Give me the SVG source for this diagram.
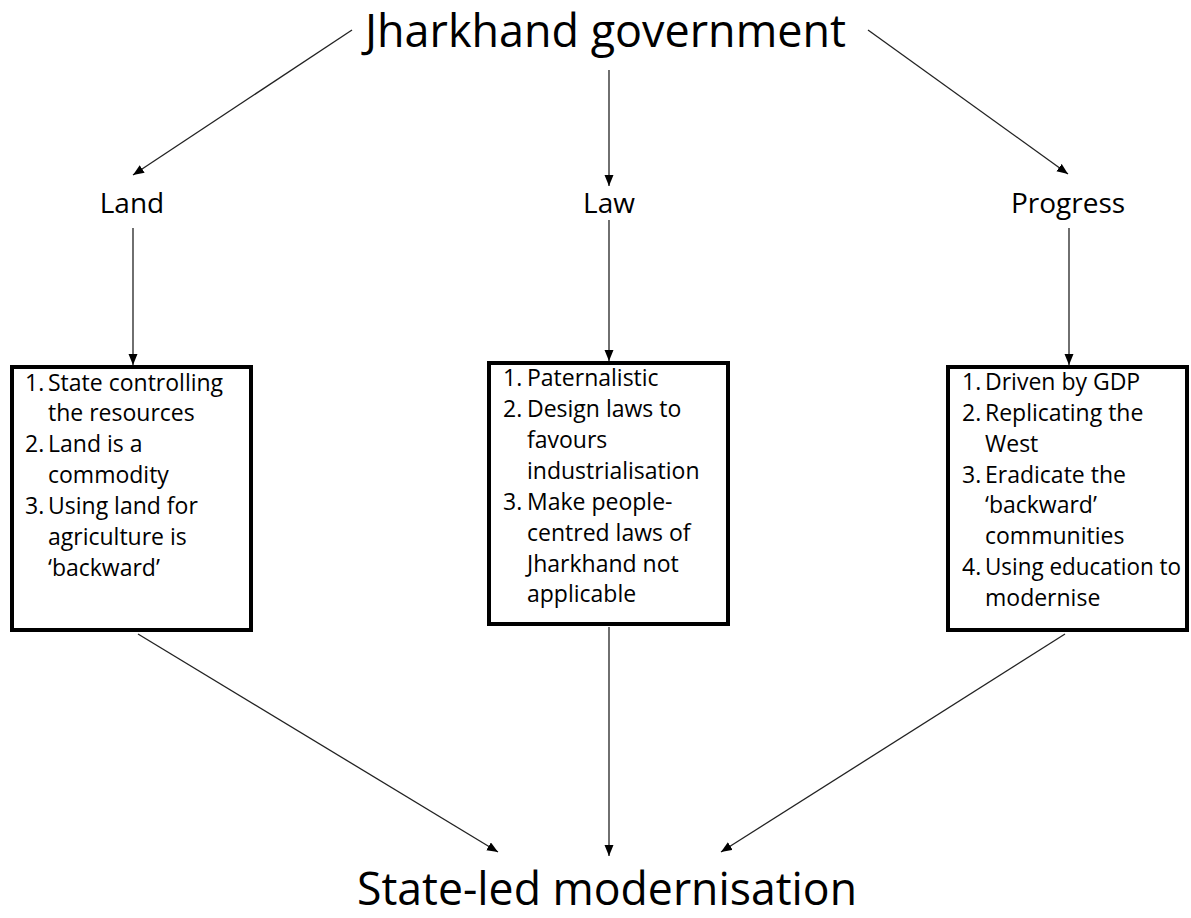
<svg xmlns="http://www.w3.org/2000/svg" width="1191" height="918" viewBox="0 0 1191 918">
  <style>
    .title { font-family: "Open Sans", "Liberation Sans", sans-serif; font-size: 45px; fill: #000; }
    .label { font-family: "Open Sans", "Liberation Sans", sans-serif; font-size: 28px; fill: #000; }
    .item { font-family: "Open Sans", "Liberation Sans", sans-serif; font-size: 23px; fill: #000; }
    .box { fill: #fff; stroke: #000; stroke-width: 4; }
    .link { stroke: #222; stroke-width: 1.3; fill: none; marker-end: url(#arrow); }
  </style>
  <defs>
    <marker id="arrow" markerUnits="userSpaceOnUse" markerWidth="12" markerHeight="10" refX="11" refY="4.5" orient="auto">
      <path d="M0,0 L11,4.5 L0,9 z" fill="#000"/>
    </marker>
  </defs>

  <rect width="1191" height="918" fill="#fff"/>

  <!-- connectors -->
  <g id="connectors">
    <line class="link" x1="352" y1="30" x2="133" y2="175"/>
    <line class="link" x1="609" y1="70" x2="609" y2="186"/>
    <line class="link" x1="868" y1="30" x2="1068" y2="174"/>
    <line class="link" x1="133" y1="228" x2="133" y2="365"/>
    <line class="link" x1="609" y1="220" x2="609" y2="361"/>
    <line class="link" x1="1069" y1="228" x2="1069" y2="365"/>
    <line class="link" x1="138" y1="634" x2="498" y2="852"/>
    <line class="link" x1="609" y1="627" x2="609" y2="856"/>
    <line class="link" x1="1065" y1="634" x2="721" y2="852"/>
  </g>

  <!-- top node -->
  <g id="jharkhand-government">
    <text class="title" x="365" y="47" textLength="481" lengthAdjust="spacingAndGlyphs">Jharkhand government</text>
  </g>

  <!-- category labels -->
  <g id="land">
    <text class="label" x="132" y="213" text-anchor="middle">Land</text>
  </g>
  <g id="law">
    <text class="label" x="609" y="213" text-anchor="middle">Law</text>
  </g>
  <g id="progress">
    <text class="label" x="1068" y="213" text-anchor="middle">Progress</text>
  </g>

  <!-- land box -->
  <g id="land-box">
    <rect class="box" x="12" y="367" width="239" height="263"/>
    <text class="item" x="25" y="391">1.</text>
    <text class="item" x="48" y="391">State controlling</text>
    <text class="item" x="48" y="421">the resources</text>
    <text class="item" x="25" y="452">2.</text>
    <text class="item" x="48" y="452">Land is a</text>
    <text class="item" x="48" y="483">commodity</text>
    <text class="item" x="25" y="514">3.</text>
    <text class="item" x="48" y="514">Using land for</text>
    <text class="item" x="48" y="545">agriculture is</text>
    <text class="item" x="48" y="576">‘backward’</text>
  </g>

  <!-- law box -->
  <g id="law-box">
    <rect class="box" x="489" y="363" width="239" height="261"/>
    <text class="item" x="503" y="386">1.</text>
    <text class="item" x="527" y="386">Paternalistic</text>
    <text class="item" x="503" y="417">2.</text>
    <text class="item" x="527" y="417">Design laws to</text>
    <text class="item" x="527" y="448">favours</text>
    <text class="item" x="527" y="479">industrialisation</text>
    <text class="item" x="503" y="510">3.</text>
    <text class="item" x="527" y="510">Make people-</text>
    <text class="item" x="527" y="541">centred laws of</text>
    <text class="item" x="527" y="572">Jharkhand not</text>
    <text class="item" x="527" y="602">applicable</text>
  </g>

  <!-- progress box -->
  <g id="progress-box">
    <rect class="box" x="948" y="367" width="239" height="263"/>
    <text class="item" x="962" y="390">1.</text>
    <text class="item" x="985" y="390">Driven by GDP</text>
    <text class="item" x="962" y="421">2.</text>
    <text class="item" x="985" y="421">Replicating the</text>
    <text class="item" x="985" y="452">West</text>
    <text class="item" x="962" y="483">3.</text>
    <text class="item" x="985" y="483">Eradicate the</text>
    <text class="item" x="985" y="513">‘backward’</text>
    <text class="item" x="985" y="544">communities</text>
    <text class="item" x="962" y="575">4.</text>
    <text class="item" x="985" y="575" textLength="196" lengthAdjust="spacingAndGlyphs">Using education to</text>
    <text class="item" x="985" y="606">modernise</text>
  </g>

  <!-- bottom node -->
  <g id="state-led-modernisation">
    <text class="title" x="357" y="905" textLength="500" lengthAdjust="spacingAndGlyphs">State-led modernisation</text>
  </g>
</svg>
